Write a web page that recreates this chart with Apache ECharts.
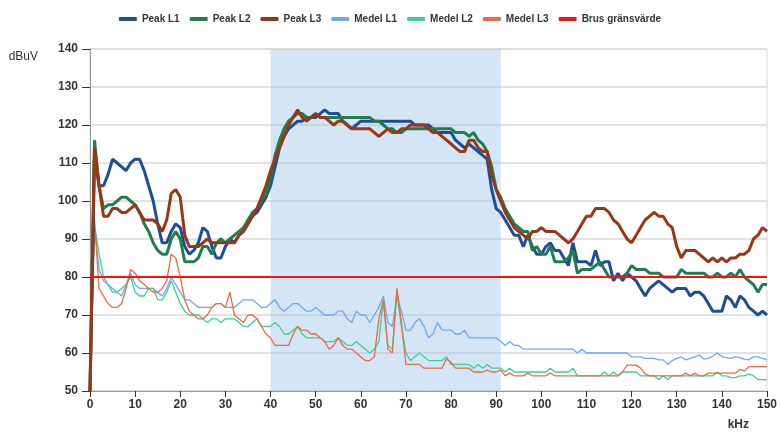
<!DOCTYPE html>
<html>
<head>
<meta charset="utf-8">
<script src="https://cdn.jsdelivr.net/npm/echarts@6/dist/echarts.min.js"></script>
<style>
  html, body { margin: 0; padding: 0; background: #fff; }
  #chart { width: 780px; height: 437px; }
</style>
</head>
<body>
<div id="chart"></div>
<script>
// frequency points, kHz
var freqKHz = [
  0, 1, 2, 3, 4, 5, 6, 7, 8, 9, 10, 11, 12, 13, 14, 15, 16, 17, 18, 19,
  20, 21, 22, 23, 24, 25, 26, 27, 28, 29, 30, 31, 32, 33, 34, 35, 36, 37, 38, 39,
  40, 41, 42, 43, 44, 45, 46, 47, 48, 49, 50, 51, 52, 53, 54, 55, 56, 57, 58, 59,
  60, 61, 62, 63, 64, 65, 66, 67, 68, 69, 70, 71, 72, 73, 74, 75, 76, 77, 78, 79,
  80, 81, 82, 83, 84, 85, 86, 87, 88, 89, 90, 91, 92, 93, 94, 95, 96, 97, 98, 99,
  100, 101, 102, 103, 104, 105, 106, 107, 108, 109, 110, 111, 112, 113, 114, 115, 116, 117, 118, 119,
  120, 121, 122, 123, 124, 125, 126, 127, 128, 129, 130, 131, 132, 133, 134, 135, 136, 137, 138, 139,
  140, 141, 142, 143, 144, 145, 146, 147, 148, 149, 150
]

var peakL1 = [
  50, 112, 104, 104, 107, 111, 110, 109, 108, 110, 111, 111, 108, 104, 100, 94, 89, 89, 92, 94,
  93, 88, 86, 87, 89, 93, 92, 88, 85, 85, 88, 90, 89, 91, 92, 94, 96, 97, 99, 101,
  104, 109, 114, 117, 119, 120, 121, 121, 122, 122, 122, 123, 124, 123, 123, 123, 121, 120, 119, 120,
  121, 121, 121, 121, 121, 121, 121, 121, 121, 121, 121, 121, 120, 120, 120, 120, 119, 118, 118, 118,
  118, 116, 115, 114, 115, 114, 113, 112, 111, 103, 98, 97, 95, 93, 91, 91, 88, 91, 88, 86,
  86, 88, 89, 87, 87, 85, 83, 89, 84, 84, 84, 83, 87, 83, 84, 84, 79, 81, 79, 81,
  80, 79, 77, 75, 77, 78, 79, 78, 77, 76, 77, 77, 77, 75, 76, 76, 75, 73, 71, 71,
  71, 75, 74, 72, 75, 74, 72, 71, 70, 71, 70
]

var peakL2 = [
  50, 116, 104, 98, 99, 99, 100, 101, 101, 100, 99, 97, 94, 92, 89, 87, 86, 86, 90, 92,
  90, 84, 84, 84, 85, 88, 88, 86, 89, 90, 89, 90, 91, 92, 93, 95, 97, 98, 100, 102,
  106, 112, 116, 119, 121, 122, 123, 123, 122, 122, 123, 122, 122, 122, 122, 122, 122, 122, 122, 122,
  122, 122, 122, 121, 121, 120, 119, 119, 118, 118, 119, 119, 119, 119, 119, 119, 119, 119, 119, 119,
  119, 118, 118, 118, 117, 118, 116, 115, 113, 109, 103, 101, 98, 96, 94, 93, 92, 92, 87, 88,
  86, 86, 88, 84, 84, 84, 85, 87, 81, 82, 82, 82, 83, 84, 82, 80, 80, 80, 80, 81,
  83, 82, 82, 82, 81, 81, 81, 80, 80, 80, 80, 82, 81, 81, 81, 81, 81, 80, 80, 81,
  80, 80, 81, 80, 82, 80, 79, 78, 76, 78, 78
]

var peakL3 = [
  50, 114, 104, 96, 96, 98, 98, 97, 97, 98, 99, 97, 95, 95, 95, 94, 92, 95, 102, 103,
  101, 91, 88, 88, 88, 89, 90, 89, 89, 89, 89, 89, 89, 91, 92, 94, 96, 98, 101, 104,
  108, 111, 114, 117, 120, 122, 124, 122, 121, 122, 123, 122, 122, 121, 120, 121, 121, 120, 119, 119,
  119, 119, 119, 118, 117, 118, 119, 118, 118, 119, 119, 120, 120, 120, 120, 119, 118, 118, 117, 116,
  115, 114, 113, 113, 116, 116, 114, 113, 113, 107, 103, 100, 97, 95, 93, 92, 91, 90, 92, 92,
  93, 92, 92, 92, 91, 90, 89, 90, 92, 94, 96, 96, 98, 98, 98, 97, 95, 94, 92, 90,
  89, 91, 93, 95, 96, 97, 96, 96, 94, 93, 88, 85, 87, 87, 87, 86, 85, 84, 85, 84,
  85, 84, 85, 85, 86, 86, 87, 90, 91, 93, 92
]

var medelL1 = [
  50, 93, 82, 79, 78, 77, 76, 75, 78, 81, 78, 77, 77, 77, 77, 76, 75, 77, 80, 78,
  76, 74, 74, 73, 72, 72, 72, 72, 73, 73, 72, 72, 72, 73, 74, 74, 74, 73, 72, 72,
  73, 74, 72, 71, 72, 73, 73, 72, 71, 71, 72, 71, 70, 70, 70, 71, 71, 69, 68, 71,
  70, 70, 68, 70, 72, 75, 68, 67, 75, 71, 66, 66, 68, 69, 67, 64, 65, 68, 66, 66,
  66, 65, 65, 66, 64, 64, 64, 64, 64, 64, 64, 63, 62, 63, 62, 62, 61, 61, 61, 61,
  61, 61, 61, 61, 61, 61, 61, 61, 60, 61, 60, 60, 60, 60, 60, 60, 60, 60, 60, 60,
  59, 59, 59, 58.6, 58.6, 58.6, 58.2, 58.2, 57, 58, 58.6, 59, 58.2, 58.6, 59, 59.5, 58.4, 58.6, 59.2, 60,
  59, 58.8, 58.6, 59, 58.8, 58.4, 58.2, 59, 59, 58.6, 58.2
]

var medelL2 = [
  50, 94, 86, 80, 78, 76, 76, 77, 78, 80, 76, 75, 75, 77, 77, 74, 74, 76, 79, 76,
  73, 71, 70, 70, 70, 69, 68, 69, 69, 68, 69, 69, 69, 68, 67, 67, 68, 69, 67, 67,
  67, 68, 67, 65, 65, 66, 67, 65, 64, 64, 64, 64, 63, 63, 63, 64, 63, 62, 62, 63,
  62, 61, 60, 61, 63, 74, 62, 61, 76, 67, 60, 58, 59, 60, 59, 58, 58, 58, 58, 59,
  57, 57, 57, 57, 57, 56, 57, 56, 57, 56, 56, 56, 55, 56, 55, 55, 55, 55, 55, 55,
  55, 55, 56, 55, 55, 55, 55, 56, 54, 54, 54, 54, 54, 54, 55, 54, 55, 54, 55, 55,
  55, 55, 54, 54, 54, 54, 53, 54, 53, 54, 54, 54, 54, 54, 54, 54, 54, 54, 54, 55,
  54, 54, 53.5, 53.5, 54, 54, 54.5, 54, 53, 53, 53
]

var medelL3 = [
  50, 95, 77, 75, 73, 72, 72, 73, 77, 82, 81, 79, 78, 77, 76, 76, 77, 79, 86, 85,
  80, 74, 71, 70, 69, 69, 70, 72, 73, 73, 72, 76, 70, 69, 68, 70, 70, 69, 67, 65,
  64, 62, 62, 62, 62, 65, 67, 66, 66, 65, 65, 64, 63, 61, 62, 64, 62, 61, 61, 60,
  59, 58, 58, 59, 69, 74, 61, 60, 77, 68, 57, 57, 57, 57, 56, 56, 56, 56, 56, 58.5,
  57.5, 56, 56, 56, 56, 55, 55, 55, 55.5, 55, 55, 55.5, 54, 54.7, 54, 54, 54, 54.7, 54, 54,
  54, 54, 54.7, 54, 54, 54, 54, 54, 54, 54, 54, 54, 54, 54, 54, 54, 54, 54, 55, 56.8,
  56.8, 56.8, 56, 54.5, 54, 54, 54, 54, 54, 54, 54, 54, 54.7, 54, 54.7, 54, 54, 54.7, 54.7, 54.7,
  54.7, 54.7, 54.7, 54.7, 55.7, 55.3, 56.4, 56.4, 56.4, 56.4, 56.4
]

// noise limit line
var limitKHz = [0, 150]
var limitDb = [80, 80]

// highlighted band
var bandKHz = [40, 91]

var yTicks = { min: 50, max: 140, step: 10 }
var xTicks = { min: 0, max: 150, step: 10 }

function pairs(xs, ys) {
  return xs.map(function (x, i) { return [x, ys[i]] })
}

var chart = echarts.init(document.getElementById('chart'), null, { renderer: 'canvas' })

var labelFont = { fontFamily: 'Liberation Sans', fontSize: 12, fontWeight: 'bold', color: '#333' }

chart.setOption({
  animation: false,
  backgroundColor: '#fff',
  legend: {
    top: 9,
    left: 'center',
    itemWidth: 18,
    itemHeight: 4,
    itemGap: 10,
    icon: 'roundRect',
    textStyle: { fontFamily: 'Liberation Sans', fontSize: 10, fontWeight: 'bold', color: '#333' },
    data: ['Peak L1', 'Peak L2', 'Peak L3', 'Medel L1', 'Medel L2', 'Medel L3', 'Brus gränsvärde']
  },
  grid: {
    left: 90, right: 7, top: 49, bottom: 46,
    show: true, borderColor: '#d8d8d8', borderWidth: 1
  },
  xAxis: {
    type: 'value',
    min: xTicks.min, max: xTicks.max, interval: xTicks.step,
    name: 'kHz',
    nameLocation: 'end',
    nameGap: -18,
    nameTextStyle: { fontFamily: 'Liberation Sans', fontSize: 12, fontWeight: 'bold', color: '#333',
      align: 'right', verticalAlign: 'top', padding: [28, 0, 0, 0] },
    axisLine: { lineStyle: { color: '#999', width: 1 } },
    axisTick: { show: true, length: 6, lineStyle: { color: '#333' } },
    axisLabel: Object.assign({ margin: 8 }, labelFont),
    splitLine: { show: false }
  },
  yAxis: {
    type: 'value',
    min: yTicks.min, max: yTicks.max, interval: yTicks.step,
    name: 'dBuV',
    nameLocation: 'end',
    nameGap: -8,
    nameTextStyle: { fontFamily: 'Liberation Sans', fontSize: 12, color: '#333',
      align: 'right', verticalAlign: 'middle', padding: [0, 52, 0, 0] },
    axisLine: { show: true, lineStyle: { color: '#999', width: 1 } },
    axisTick: { show: true, length: 8, lineStyle: { color: '#333' } },
    axisLabel: Object.assign({ margin: 12 }, labelFont),
    splitLine: { show: true, lineStyle: { color: '#d8d8d8', width: 1.5 } }
  },
  series: [
    {
      name: 'Medel L1', type: 'line', symbol: 'none', color: '#6fa8f2',
      lineStyle: { width: 1.3 }, data: pairs(freqKHz, medelL1), z: 2,
      markArea: {
        silent: true,
        itemStyle: { color: 'rgba(160,200,236,0.45)' },
        data: [[{ xAxis: bandKHz[0] }, { xAxis: bandKHz[1] }]]
      }
    },
    { name: 'Medel L2', type: 'line', symbol: 'none', color: '#3ecf96',
      lineStyle: { width: 1.3 }, data: pairs(freqKHz, medelL2), z: 2 },
    { name: 'Medel L3', type: 'line', symbol: 'none', color: '#ee6a42',
      lineStyle: { width: 1.3 }, data: pairs(freqKHz, medelL3), z: 2 },
    { name: 'Peak L1', type: 'line', symbol: 'none', color: '#1c4d96',
      lineStyle: { width: 3 }, data: pairs(freqKHz, peakL1), z: 3 },
    { name: 'Peak L2', type: 'line', symbol: 'none', color: '#1f7d4e',
      lineStyle: { width: 3 }, data: pairs(freqKHz, peakL2), z: 3 },
    { name: 'Peak L3', type: 'line', symbol: 'none', color: '#993613',
      lineStyle: { width: 3 }, data: pairs(freqKHz, peakL3), z: 3 },
    { name: 'Brus gränsvärde', type: 'line', symbol: 'none', color: '#f51212',
      lineStyle: { width: 2 }, data: pairs(limitKHz, limitDb), z: 4 }
  ]
})
</script>
</body>
</html>
